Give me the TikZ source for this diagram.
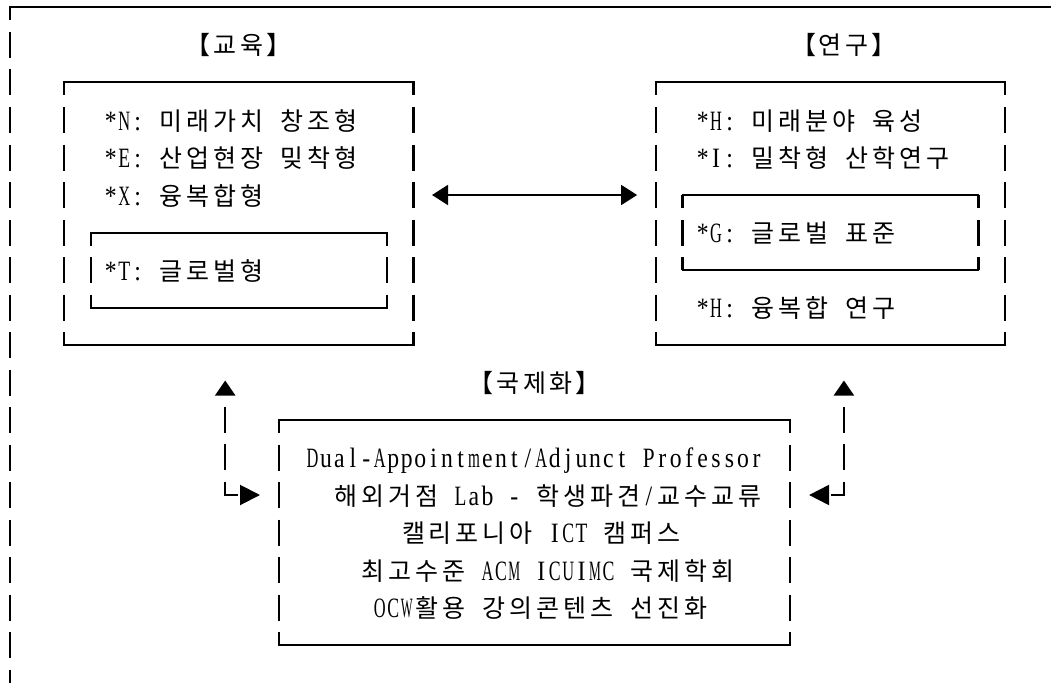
\documentclass[tikz,border=0pt]{standalone}
\usepackage{fontspec}
\usetikzlibrary{arrows.meta,fit}

% Hangul and Latin faces; every character sits in a fixed grid cell
\newfontfamily\hangulface{Noto Sans CJK KR}
\newfontfamily\latinface{Liberation Serif}[FakeStretch=0.85]
\newcommand\hangulsize{\hangulface\fontsize{25pt}{28pt}\selectfont}
\newcommand\latinsize{\latinface\fontsize{28pt}{30pt}\selectfont}

\ExplSyntaxOn
\dim_new:N \l_grid_cell_dim
\dim_set:Nn \l_grid_cell_dim {13.45pt}
\box_new:N \l_grid_char_box
% set a line on a fixed-pitch grid: ASCII takes one cell, Hangul two;
% Latin letters wider than their cell are squeezed horizontally
\NewDocumentCommand \gridtext { m }
  {
    \str_map_inline:nn {#1}
      {
        \tl_if_blank:nTF {##1}
          { \hbox_to_wd:nn { \l_grid_cell_dim } { } }
          {
            \int_compare:nNnTF { `##1 } < { 128 }
              {
                \hbox_set:Nn \l_grid_char_box { \latinsize ##1 }
                \dim_compare:nNnT { \box_wd:N \l_grid_char_box } > { 0.88\l_grid_cell_dim }
                  {
                    \box_scale:Nnn \l_grid_char_box
                      { \fp_eval:n { 0.88 * \dim_to_fp:n { \l_grid_cell_dim }
                                     / \dim_to_fp:n { \box_wd:N \l_grid_char_box } } }
                      { 1 }
                  }
                \hbox_to_wd:nn { \l_grid_cell_dim } { \hfil \box_use:N \l_grid_char_box \hfil }
              }
              { \hbox_to_wd:nn { 2\l_grid_cell_dim } { \hfil \hangulsize ##1 \hfil } }
          }
      }
  }
\ExplSyntaxOff

% grid: column boundary j at x = 10 + cw*j, row k centred at y = 7.5 + rh*k
\def\cw{13.45}
\def\rh{37.5}

\tikzset{
  area/.style={inner sep=0pt, outer sep=0pt},
  txt/.style={anchor=base west, inner sep=0pt, outer sep=0pt},
  hline/.style={line width=2pt, line cap=rect},
  vline/.style={line width=2.2pt, dash pattern=on 26pt off 11.5pt, dash phase=13pt},
  link/.style={line width=1.8pt,
    arrows={Triangle[length=16pt,width=20pt]-Triangle[length=16pt,width=20pt]}},
  feed/.style={line width=2pt, dash pattern=on 26pt off 11.5pt, dash phase=26pt,
    arrows={Triangle[length=15pt,width=20pt,sep=3.5pt]-Triangle[length=20pt,width=20pt]}}
}

% solid top and bottom, broken sides
\newcommand\boxsides[1]{%
  \draw[hline] (#1.north west) -- (#1.north east)
               (#1.south west) -- (#1.south east);
  \draw[vline] (#1.north west) -- (#1.south west)
               (#1.north east) -- (#1.south east);
}

\begin{document}
\begin{tikzpicture}[x=1pt,y=-1pt]
\fill[white, use as bounding box] (0,0) rectangle (1051,682);

% outer frame: top edge and left edge only
\coordinate (frameTL) at (10,7.5);
\coordinate (frameTR) at (1060,7.5);
\coordinate (frameBL) at (10,690);
\draw[hline] (frameTL) -- (frameTR);
\draw[vline] (frameTL) -- (frameBL);

% boxes
\node[area, fit={(10+\cw*4,7.5+\rh*2) (10+\cw*30,7.5+\rh*9)}] (edu) {};
\node[area, fit={(10+\cw*6,7.5+\rh*6) (10+\cw*28,7.5+\rh*8)}] (eduT) {};
\node[area, fit={(10+\cw*48,7.5+\rh*2) (10+\cw*74,7.5+\rh*9)}] (res) {};
\node[area, fit={(10+\cw*50,7.5+\rh*5) (10+\cw*72,7.5+\rh*7)}] (resG) {};
\node[area, fit={(10+\cw*20,7.5+\rh*11) (10+\cw*58,7.5+\rh*17)}] (intl) {};
\boxsides{edu}
\boxsides{eduT}
\boxsides{res}
\boxsides{resG}
\boxsides{intl}

% headings
\node[txt] (hEdu)  at (10+\cw*13, 17.5+\rh*1)  {\gridtext{【교육】}};
\node[txt] (hRes)  at (10+\cw*58, 17.5+\rh*1)  {\gridtext{【연구】}};
\node[txt] (hIntl) at (10+\cw*34, 17.5+\rh*10) {\gridtext{【국제화】}};

% education items
\node[txt] (eN) at (10+\cw*7, 17.5+\rh*3) {\gridtext{*N: 미래가치 창조형}};
\node[txt] (eE) at (10+\cw*7, 17.5+\rh*4) {\gridtext{*E: 산업현장 밎착형}};
\node[txt] (eX) at (10+\cw*7, 17.5+\rh*5) {\gridtext{*X: 융복합형}};
\node[txt] (eT) at (10+\cw*7, 17.5+\rh*7) {\gridtext{*T: 글로벌형}};

% research items
\node[txt] (rH) at (10+\cw*51, 17.5+\rh*3) {\gridtext{*H: 미래분야 육성}};
\node[txt] (rI) at (10+\cw*51, 17.5+\rh*4) {\gridtext{*I: 밀착형 산학연구}};
\node[txt] (rG) at (10+\cw*51, 17.5+\rh*6) {\gridtext{*G: 글로벌 표준}};
\node[txt] (rC) at (10+\cw*51, 17.5+\rh*8) {\gridtext{*H: 융복합 연구}};

% internationalisation items
\node[txt] (i1) at (10+\cw*22, 17.5+\rh*12) {\gridtext{Dual-Appointment/Adjunct Professor}};
\node[txt] (i2) at (10+\cw*24, 17.5+\rh*13) {\gridtext{해외거점 Lab - 학생파견/교수교류}};
\node[txt] (i3) at (10+\cw*29, 17.5+\rh*14) {\gridtext{캘리포니아 ICT 캠퍼스}};
\node[txt] (i4) at (10+\cw*26, 17.5+\rh*15) {\gridtext{최고수준 ACM ICUIMC 국제학회}};
\node[txt] (i5) at (10+\cw*27, 17.5+\rh*16) {\gridtext{OCW활용 강의콘텐츠 선진화}};

% connectors
\coordinate (r5)  at (0, 7.5+\rh*5);
\coordinate (r13) at (0, 7.5+\rh*13);
\coordinate (upL) at (10+\cw*16, 377);
\coordinate (upR) at (10+\cw*62, 377);
\draw[link, shorten <=18.5pt, shorten >=18.5pt] (edu.east |- r5) -- (res.west |- r5);
\draw[feed, shorten >=19pt] (upL) |- (intl.west |- r13);
\draw[feed, shorten >=19pt] (upR) |- (intl.east |- r13);
\end{tikzpicture}
\end{document}
